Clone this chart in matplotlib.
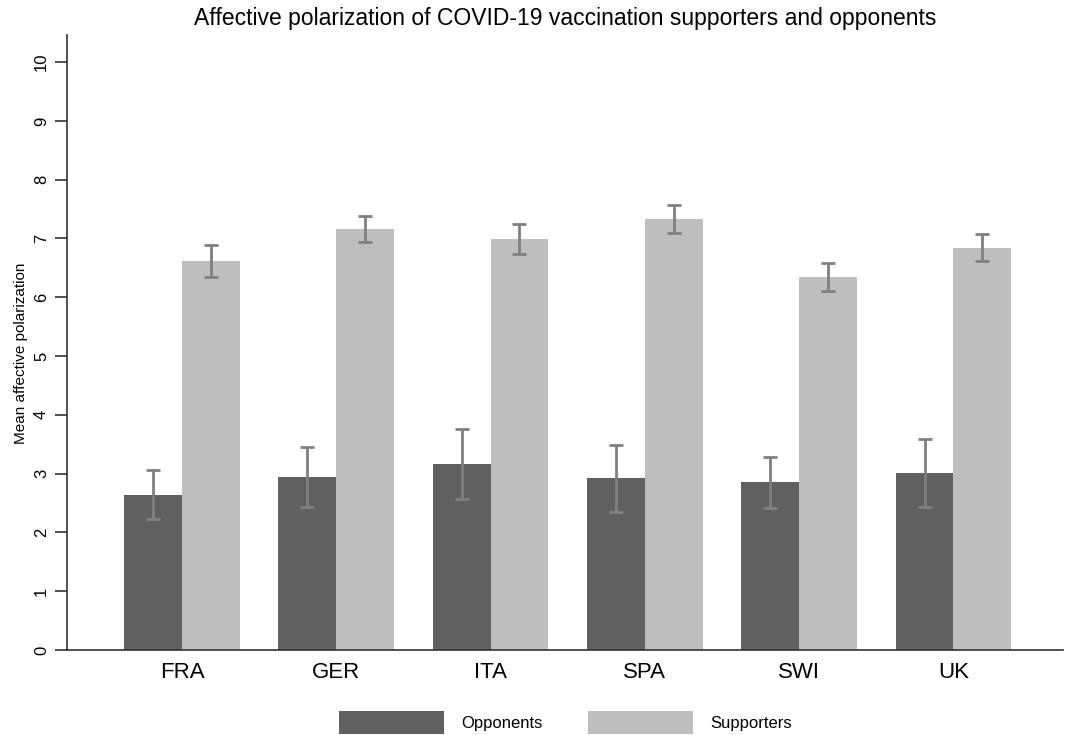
import numpy as np
import matplotlib.pyplot as plt

# Mean affective polarization by country, with 95% CI bounds
countries = ["FRA", "GER", "ITA", "SPA", "SWI", "UK"]
opponents = [2.64, 2.94, 3.16, 2.92, 2.86, 3.01]
opp_low = [2.23, 2.44, 2.57, 2.35, 2.42, 2.43]
opp_high = [3.06, 3.45, 3.76, 3.49, 3.29, 3.59]
supporters = [6.61, 7.16, 6.99, 7.33, 6.34, 6.83]
sup_low = [6.34, 6.94, 6.73, 7.10, 6.11, 6.62]
sup_high = [6.88, 7.38, 7.24, 7.57, 6.58, 7.07]

plt.rcParams["font.family"] = ["Liberation Sans", "DejaVu Sans"]

fig = plt.figure(figsize=(10.77, 7.35), dpi=100)
ax = fig.add_axes([67 / 1077, 1 - 650 / 735, (1063 - 67) / 1077, (650 - 35) / 735])

x = np.arange(len(countries))
w = 0.375
opp = np.array(opponents)
sup = np.array(supporters)

ax.bar(x - w / 2, opp, width=w, color="#606060", label="Opponents")
ax.bar(x + w / 2, sup, width=w, color="#bebebe", label="Supporters")

err_style = dict(fmt="none", ecolor="#808080", elinewidth=2, capsize=5, capthick=2)
ax.errorbar(x - w / 2, opp, yerr=[opp - np.array(opp_low), np.array(opp_high) - opp], **err_style)
ax.errorbar(x + w / 2, sup, yerr=[sup - np.array(sup_low), np.array(sup_high) - sup], **err_style)

ax.set_xlim(-0.745, 5.71)
ax.set_ylim(0, 10.46)
ax.set_yticks(range(0, 11))
ax.set_xticks(x)
ax.set_xticklabels(countries, fontsize=16)
ax.tick_params(axis="x", length=0, pad=9)
ax.tick_params(axis="y", length=8.5, width=1.2, color="#333333", labelsize=12,
               labelrotation=90, pad=4.5)
for lbl in ax.get_yticklabels():
    lbl.set_va("center")

for side in ["top", "right"]:
    ax.spines[side].set_visible(False)
for side in ["left", "bottom"]:
    ax.spines[side].set_color("#333333")
    ax.spines[side].set_linewidth(1.2)

ax.set_ylabel("Mean affective polarization", fontsize=11, labelpad=1)
ax.yaxis.set_label_coords(-0.039, 0.483)
ax.set_title("Affective polarization of COVID-19 vaccination supporters and opponents",
             fontsize=16.5, pad=7)

fig.legend(loc="upper center", bbox_to_anchor=(0.525, 1 - 703 / 735), ncol=2,
           frameon=False, fontsize=12, handlelength=6.3, handleheight=1.7,
           handletextpad=1.05, columnspacing=2.7, borderpad=0)

fig.savefig("out.png", dpi=100)
